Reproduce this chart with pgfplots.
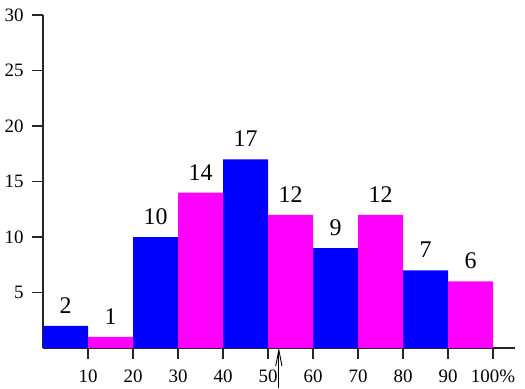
\documentclass[border=0pt]{standalone}
\usepackage{fontspec}
\setmainfont{Liberation Serif}
\usepackage{pgfplots}
\pgfplotsset{compat=1.18}
\definecolor{barblue}{RGB}{0,0,255}
\definecolor{barmag}{RGB}{255,0,255}
\begin{document}
\begin{tikzpicture}
\begin{axis}[
  scale only axis,
  width=472bp, height=333bp,
  xmin=0, xmax=104.9, ymin=0, ymax=30,
  axis x line=bottom, axis y line=left,
  axis line style={-, line width=1.2bp, black!85},
  tick style={line width=1.2bp, black!85},
  tick align=outside,
  major tick length=11bp,
  xtick={10,20,30,40,50,60,70,80,90,100},
  xticklabels={10,20,30,40,50,60,70,80,90,100\%},
  ytick={5,10,15,20,25,30},
  /pgf/number format/assume math mode=true,
  tick label style={font=\fontsize{19}{22}\selectfont},
  xticklabel style={yshift=-7bp},
  yticklabel style={xshift=-5bp},
  clip=false,
  nodes near coords,
  every node near coord/.append style={font=\fontsize{24}{28}\selectfont, yshift=9bp, black},
]
\addplot[ybar, bar width=10, bar shift=0pt, fill=barblue, draw=none]
  coordinates {(5,2) (25,10) (45,17) (65,9) (85,7)};
\addplot[ybar, bar width=10, bar shift=0pt, fill=barmag, draw=none]
  coordinates {(15,1) (35,14) (55,12) (75,12) (95,6)};
\draw[line width=1bp, black] (axis cs:52.4,-3.6) -- (axis cs:52.4,-0.18);
\draw[line width=0.9bp, black] (axis cs:51.7,-1.62) -- (axis cs:52.4,-0.18) -- (axis cs:53.1,-1.62);
\path (axis cs:-9.56,-3.6) rectangle (axis cs:107.1,31.35);
\end{axis}
\end{tikzpicture}
\end{document}
